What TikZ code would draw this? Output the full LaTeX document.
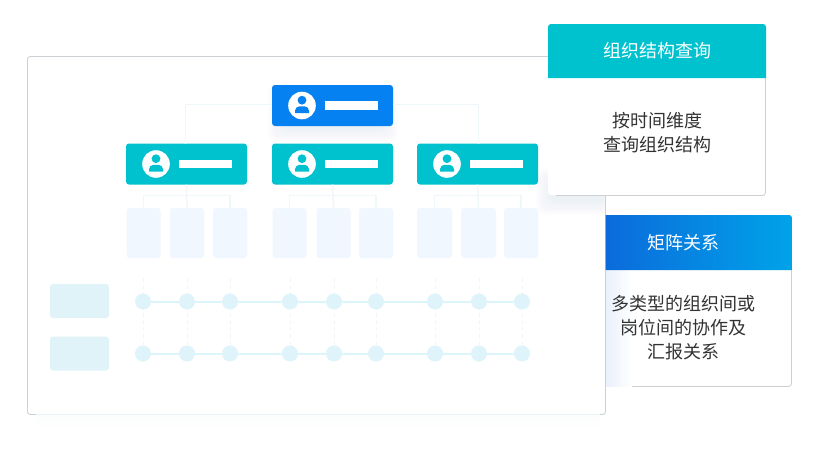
\documentclass[tikz,border=0pt]{standalone}
\usepackage{fontspec}
\setmainfont{Noto Sans CJK SC}
\usetikzlibrary{positioning,calc}
\definecolor{tealbox}{HTML}{00C2CF}
\definecolor{bluebox}{HTML}{0581F2}
\definecolor{paleblue}{HTML}{F0F7FF}
\definecolor{rowbox}{HTML}{E0F3F9}
\definecolor{dotfill}{HTML}{DFF3FA}
\definecolor{rowline}{HTML}{DAF5FB}
\definecolor{treeline}{HTML}{F0F7FA}
\definecolor{vdash}{HTML}{F1F6F8}
\definecolor{edge}{HTML}{CBD0D4}
\definecolor{bottomedge}{HTML}{EDF2F5}
\definecolor{underglow}{HTML}{FBFCFD}
\definecolor{bodytext}{HTML}{333333}
\definecolor{hblueA}{HTML}{0B6BDC}
\definecolor{hblueB}{HTML}{00A3E8}
\definecolor{halo}{HTML}{3C78E6}
\definecolor{fadeblue}{HTML}{E9F1FC}
\tikzset{
  box/.style={inner sep=0pt,outer sep=0pt,rounded corners=3pt},
  panelbox/.style={box,fill=white,draw=edge,line width=0.9pt,minimum width=578pt,minimum height=358pt},
  orgbox/.style={box,minimum width=121pt,minimum height=41pt},
  leafbox/.style={box,fill=paleblue,minimum height=50pt},
  sidebox/.style={box,fill=rowbox,minimum width=59pt,minimum height=34pt},
  dotnode/.style={circle,inner sep=0pt,minimum size=16pt,fill=dotfill},
  cardbox/.style={box,fill=white},
  cardedge/.style={draw=edge,line width=0.9pt},
  headtext/.style={text=white,font=\fontsize{18}{24}\selectfont,inner sep=0pt},
  bodynote/.style={text=bodytext,font=\fontsize{18}{24}\selectfont,align=center,inner sep=0pt},
  treelink/.style={draw=treeline,line width=1.4pt},
  rowlink/.style={draw=rowline,line width=2pt},
  vlink/.style={draw=vdash,line width=1pt,dash pattern=on 4pt off 3pt},
}
% soft halo: stacked translucent rounded rectangles
\newcommand{\softhalo}[5]{%
  \foreach \k in {1,...,10}{
    \fill[halo,opacity=#5,rounded corners=8pt]
      ({#1-\k*1.6},{#2-\k*1.6+4}) rectangle ({#3+\k*1.6},{#4+\k*1.6+4});
  }}
\newcommand{\orgcard}[4]{% name, cx, cy, colour
  \node[orgbox,fill=#4] (#1) at (#2,#3) {};
  \fill[white] ({#2-30.5},{#3}) circle (13.8pt);
  \fill[#4] ({#2-30.5},{#3-5.3}) circle (4.4pt);
  \fill[#4] ({#2-37.5},{#3+7.6}) [rounded corners=4.5pt] -- ({#2-37.5},{#3+0.8}) -- ({#2-23.5},{#3+0.8}) [sharp corners] -- ({#2-23.5},{#3+7.6}) -- cycle;
  \fill[white] ({#2-7.5},{#3-4.3}) rectangle ({#2+45.5},{#3+4.3});
}
\begin{document}
\begin{tikzpicture}[x=1pt,y=-1pt]
\useasboundingbox (0,0) rectangle (829,456);
\fill[white] (0,0) rectangle (829,456);
% panel
\shade[top color=underglow,bottom color=white] (36,414) rectangle (600,430);
\node[panelbox] (panel) at (316.5,235.5) {};
\draw[bottomedge,line width=1pt] (36,414.5) -- (600,414.5);
% halos
\softhalo{284}{96}{382}{122}{0.007}
\begin{scope}
  \clip (500,150) rectangle (604.6,240);
  \softhalo{552}{180}{762}{195}{0.008}
\end{scope}
% tree links
\coordinate (elbowL) at (185.5,104.5);
\coordinate (elbowR) at (478.5,104.5);
\coordinate (busA) at (187,195.5);
\coordinate (busB) at (334,195.5);
\coordinate (busC) at (479,195.5);
% org cards
\orgcard{top}{332.5}{105.5}{bluebox}
\orgcard{ta}{186.5}{164}{tealbox}
\orgcard{tb}{332.5}{164}{tealbox}
\orgcard{tc}{477.5}{164}{tealbox}
% leaves
\node[leafbox,minimum width=34pt] (a1) at (143.5,233) {};
\node[leafbox,minimum width=34pt] (a2) at (187,233) {};
\node[leafbox,minimum width=34pt] (a3) at (230,233) {};
\node[leafbox,minimum width=34pt] (b1) at (289.5,233) {};
\node[leafbox,minimum width=34pt] (b2) at (333.5,233) {};
\node[leafbox,minimum width=34pt] (b3) at (376,233) {};
\node[leafbox,minimum width=35pt] (c1) at (434.5,233) {};
\node[leafbox,minimum width=35pt] (c2) at (478.5,233) {};
\node[leafbox,minimum width=34pt] (c3) at (521,233) {};
\draw[treelink] (top.west |- elbowL) -- (elbowL) -- (elbowL |- ta.north);
\draw[treelink] (top.east |- elbowR) -- (elbowR) -- (elbowR |- tc.north);
\draw[treelink] (a1.north) |- (busA) -| (a3.north);
\draw[treelink] (ta.south) -- (a2.north);
\draw[treelink] (b1.north) |- (busB) -| (b3.north);
\draw[treelink] (tb.south) -- (b2.north);
\draw[treelink] (c1.north) |- (busC) -| (c3.north);
\draw[treelink] (tc.south) -- (c2.north);
% side boxes
\node[sidebox] (s1) at (79.5,301) {};
\node[sidebox] (s2) at (79.5,353.5) {};
% matrix
\foreach \i/\x in {1/143,2/187,3/230,4/290,5/334,6/376,7/435,8/479,9/522}{
  \coordinate (u\i) at (\x,278);
  \coordinate (w\i) at (\x,345);
  \draw[vlink] (u\i) -- (w\i);
}
\foreach \i/\x in {1/143,2/187,3/230,4/290,5/334,6/376,7/435,8/479,9/522}{
  \node[dotnode] (p\i) at (\x,301.5) {};
  \node[dotnode] (q\i) at (\x,353.5) {};
}
\foreach \i/\j in {1/2,2/3,3/4,4/5,5/6,6/7,7/8,8/9}{
  \draw[rowlink] (p\i) -- (p\j);
  \draw[rowlink] (q\i) -- (q\j);
}
% card 2 (sits behind the panel edge)
\path[fill=white,cardedge] (606,215.5) [rounded corners=3pt] -- (791.5,215.5) -- (791.5,386.5) [sharp corners] -- (606,386.5);
\shade[left color=fadeblue,right color=white] (606,270) rectangle (632,386);
\shade[left color=hblueA,right color=hblueB] (605.5,270) -- (605.5,215) [rounded corners=3pt] -- (792,215) [sharp corners] -- (792,270) -- cycle;
\node[headtext] (h2) at (683,242.5) {矩阵关系};
\node[bodynote] (n2) at (683,328) {多类型的组织间或\\岗位间的协作及\\汇报关系};
% card 1
\node[cardbox,minimum width=218pt,minimum height=171pt] (card1) at (657,109.5) {};
\draw[cardedge,rounded corners=3pt] (765.5,70) -- (765.5,195.5) -- (556,195.5);
\fill[tealbox] (548,78) [rounded corners=3pt] -- (548,24) -- (766,24) [sharp corners] -- (766,78) -- cycle;
\node[headtext] (h1) at (657,51) {组织结构查询};
\node[bodynote] (n1) at (657,132.5) {按时间维度\\查询组织结构};
\end{tikzpicture}
\end{document}
